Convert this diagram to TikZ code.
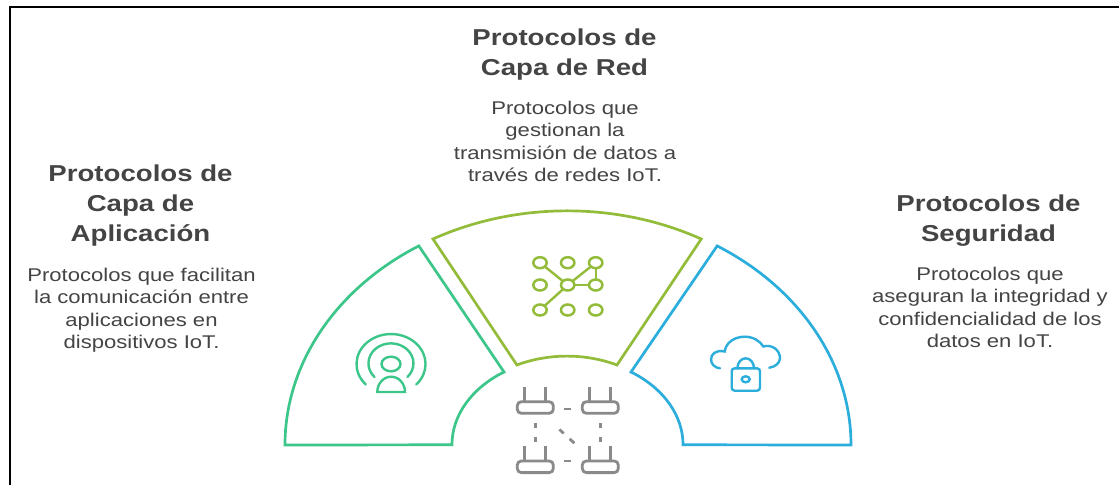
\documentclass[tikz,border=0pt]{standalone}
\usepackage{fontspec}
\usetikzlibrary{shapes.geometric}
\setmainfont{Liberation Sans}
\definecolor{cgreen}{HTML}{3CC68A}
\definecolor{clime}{HTML}{92BC3A}
\definecolor{cblue}{HTML}{2BAEDC}
\definecolor{cgrey}{HTML}{8A8A8A}
\definecolor{ctext}{HTML}{444444}
\tikzset{
  title/.style={align=center,text=ctext,font=\fontsize{23}{30}\selectfont\bfseries,anchor=north,xscale=1.2,transform shape,inner sep=0pt},
  body/.style={align=center,text=ctext,font=\fontsize{18.4}{22.6}\selectfont,anchor=north,xscale=1.2,transform shape,inner sep=0pt},
  wedge/.style={line width=2.7pt,line join=miter},
  icon/.style={line width=2.4pt,line cap=round},
  dot/.style={draw=clime,line width=2.5pt,ellipse,minimum width=13.4pt,minimum height=11pt,inner sep=0pt,outer sep=0pt},
  tie/.style={draw=clime,line width=2.4pt},
  router/.style={draw=cgrey,line width=2.8pt,rectangle,rounded corners=4pt,minimum width=36pt,minimum height=11.6pt,inner sep=0pt,outer sep=0pt},
  aerial/.style={draw=cgrey,line width=2.8pt},
  link/.style={draw=cgrey,line width=2.8pt},
}
\begin{document}
\begin{tikzpicture}[x=1pt,y=1pt]
\useasboundingbox (0,0) rectangle (1119,485);
\fill[white] (0,0) rectangle (1119,485);
% frame
\draw[black,line width=2pt] (10.3,0) -- (10.3,478) -- (1119,478);
% wedges
\draw[wedge,draw=cgreen] (285,40) arc[start angle=180,end angle=121.7,x radius=282,y radius=234] -- (504,113) arc[start angle=123.2,end angle=180,x radius=115,y radius=87] -- cycle;
\draw[wedge,draw=clime] (433,246) arc[start angle=118.4,end angle=61.6,x radius=282,y radius=234] -- (617,120) arc[start angle=64.2,end angle=115.8,x radius=115,y radius=89] -- cycle;
\draw[wedge,draw=cblue] (851,40) arc[start angle=0,end angle=58.3,x radius=282,y radius=234] -- (631,113) arc[start angle=56.8,end angle=0,x radius=115,y radius=87] -- cycle;
% texts
\node[title] (t1) at (140.5,320) {Protocolos de\\Capa de\\Aplicación};
\node[body] (b1) at (141.5,217.5) {Protocolos que facilitan\\la comunicación entre\\aplicaciones en\\dispositivos IoT.};
\node[title] (t2) at (564.5,456.5) {Protocolos de\\Capa de Red};
\node[body] (b2) at (565,384.5) {Protocolos que\\gestionan la\\transmisión de datos a\\través de redes IoT.};
\node[title] (t3) at (988.5,290) {Protocolos de\\Seguridad};
\node[body] (b3) at (990,218.5) {Protocolos que\\aseguran la integridad y\\confidencialidad de los\\datos en IoT.};
% person icon
\begin{scope}[icon,draw=cgreen]
\draw (391,121) ellipse[x radius=9.5,y radius=7.3];
\draw (377.3,93) -- (405,93) arc[start angle=0,end angle=180,x radius=13.85,y radius=15.3] -- cycle;
\draw (374.5,108) arc[start angle=223,end angle=-43,x radius=22.5,y radius=20];
\draw (365.8,100.5) arc[start angle=223,end angle=-43,x radius=34.5,y radius=30];
\end{scope}
% network icon
\node[dot] (n1) at (540,222.3) {};
\node[dot] (n2) at (567.7,222.3) {};
\node[dot] (n3) at (595.7,222.3) {};
\node[dot] (n4) at (540,200) {};
\node[dot] (n5) at (567.7,200) {};
\node[dot] (n6) at (595.7,200) {};
\node[dot] (n7) at (540,175) {};
\node[dot] (n8) at (567.7,175) {};
\node[dot] (n9) at (595.7,175) {};
\draw[tie] (n5) -- (n1);
\draw[tie] (n5) -- (n3);
\draw[tie] (n5) -- (n6);
\draw[tie] (n5) -- (n7);
\draw[tie] (n3) -- (n6);
% cloud lock icon
\begin{scope}[icon,draw=cblue]
\draw (720,116.7) .. controls (715,117) and (711,121) .. (711,125.5) .. controls (711,131) and (716,135.5) .. (724.7,133.5) .. controls (726,143) and (735,148.3) .. (745,148.3) .. controls (753,148.3) and (760,144) .. (763.3,138.5) .. controls (772,141) and (780,135) .. (780,126.7) .. controls (780,122) and (775,118) .. (769.3,117.3);
\draw[rounded corners=3pt] (731.7,94.3) rectangle (760,116.7);
\draw (745.7,105.7) ellipse[x radius=4,y radius=3];
\draw (737.4,116.7) arc[start angle=180,end angle=0,x radius=8.3,y radius=10];
\end{scope}
% routers
\node[router] (r1) at (535.3,77.5) {};
\node[router] (r2) at (600.3,77.5) {};
\node[router] (r3) at (535.3,18.2) {};
\node[router] (r4) at (600.3,18.2) {};
\foreach \r in {r1,r2,r3,r4}{
  \draw[aerial] ([xshift=-10.7pt]\r.north) -- ++(0,15);
  \draw[aerial] ([xshift=10pt]\r.north) -- ++(0,15);
}
\draw[link,dash pattern=on 6.7pt off 22.3pt,dash phase=18pt] ([yshift=-1.5pt]r1.east) -- ([yshift=-1.5pt]r2.west);
\draw[link,dash pattern=on 6.7pt off 22.3pt,dash phase=18pt] (r3.north east) -- (r4.north west);
\draw[link,dash pattern=on 5pt off 9pt on 4.5pt off 29.5pt,dash phase=38pt] (r1) -- (r3);
\draw[link,dash pattern=on 5pt off 9pt on 4.5pt off 29.5pt,dash phase=38pt] (r2) -- (r4);
\draw[link,dash pattern=on 5.8pt off 8.1pt on 6.4pt off 50.7pt,dash phase=47pt] (r1) -- (r4);
\end{tikzpicture}
\end{document}
